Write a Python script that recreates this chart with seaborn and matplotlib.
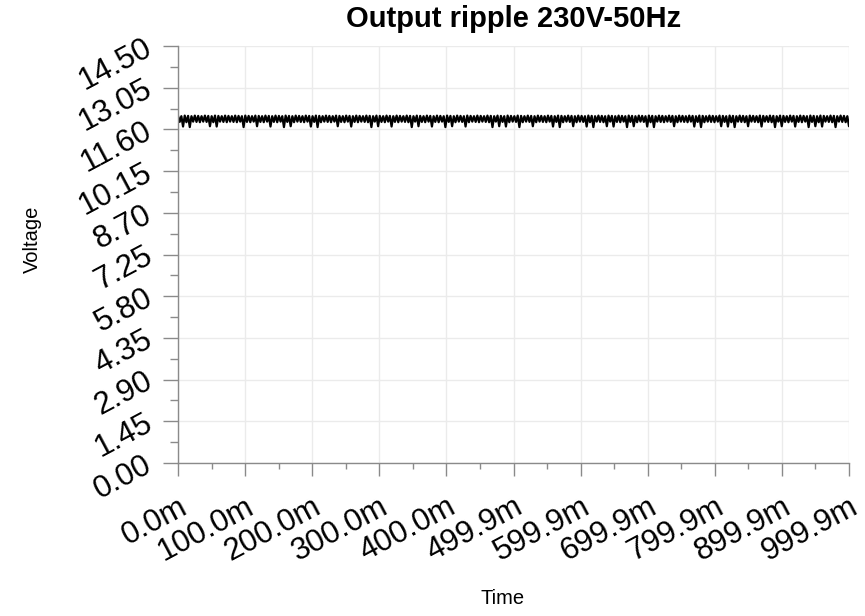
import seaborn as sns
import matplotlib.pyplot as plt
import matplotlib.transforms as mtransforms
import numpy as np
import pandas as pd
from matplotlib.ticker import AutoMinorLocator

# sampled output voltage (V), 400 samples over ~1 s
voltage = [
    12.07, 11.86, 12.06, 11.70, 12.08, 11.85, 12.07, 11.68, 12.06, 11.87, 12.08, 11.86, 12.07, 11.85, 12.06, 11.87, 12.08, 11.86, 12.07, 11.71,
    12.06, 11.85, 12.08, 11.70, 12.07, 11.87, 12.06, 11.86, 12.08, 11.85, 12.07, 11.87, 12.06, 11.86, 12.08, 11.85, 12.07, 11.87, 12.06, 11.68,
    12.08, 11.86, 12.07, 11.85, 12.06, 11.87, 12.08, 11.71, 12.07, 11.86, 12.06, 11.85, 12.08, 11.87, 12.07, 11.70, 12.06, 11.86, 12.08, 11.85,
    12.07, 11.87, 12.06, 11.68, 12.08, 11.86, 12.07, 11.71, 12.06, 11.85, 12.08, 11.87, 12.07, 11.86, 12.06, 11.85, 12.08, 11.87, 12.07, 11.70,
    12.06, 11.86, 12.08, 11.68, 12.07, 11.85, 12.06, 11.87, 12.08, 11.86, 12.07, 11.85, 12.06, 11.87, 12.08, 11.71, 12.07, 11.86, 12.06, 11.85,
    12.08, 11.87, 12.07, 11.70, 12.06, 11.86, 12.08, 11.85, 12.07, 11.87, 12.06, 11.86, 12.08, 11.85, 12.07, 11.68, 12.06, 11.87, 12.08, 11.71,
    12.07, 11.86, 12.06, 11.85, 12.08, 11.87, 12.07, 11.70, 12.06, 11.86, 12.08, 11.85, 12.07, 11.87, 12.06, 11.86, 12.08, 11.85, 12.07, 11.68,
    12.06, 11.87, 12.08, 11.71, 12.07, 11.86, 12.06, 11.85, 12.08, 11.87, 12.07, 11.70, 12.06, 11.86, 12.08, 11.85, 12.07, 11.87, 12.06, 11.68,
    12.08, 11.86, 12.07, 11.71, 12.06, 11.85, 12.08, 11.87, 12.07, 11.86, 12.06, 11.70, 12.08, 11.85, 12.07, 11.87, 12.06, 11.86, 12.08, 11.85,
    12.07, 11.87, 12.06, 11.86, 12.08, 11.85, 12.07, 11.68, 12.06, 11.87, 12.08, 11.71, 12.07, 11.86, 12.06, 11.70, 12.08, 11.85, 12.07, 11.87,
    12.06, 11.86, 12.08, 11.68, 12.07, 11.85, 12.06, 11.87, 12.08, 11.86, 12.07, 11.71, 12.06, 11.85, 12.08, 11.87, 12.07, 11.86, 12.06, 11.85,
    12.08, 11.87, 12.07, 11.70, 12.06, 11.86, 12.08, 11.68, 12.07, 11.85, 12.06, 11.87, 12.08, 11.86, 12.07, 11.71, 12.06, 11.85, 12.08, 11.87,
    12.07, 11.86, 12.06, 11.70, 12.08, 11.85, 12.07, 11.68, 12.06, 11.87, 12.08, 11.86, 12.07, 11.85, 12.06, 11.71, 12.08, 11.87, 12.07, 11.70,
    12.06, 11.86, 12.08, 11.85, 12.07, 11.87, 12.06, 11.68, 12.08, 11.86, 12.07, 11.71, 12.06, 11.85, 12.08, 11.87, 12.07, 11.86, 12.06, 11.70,
    12.08, 11.85, 12.07, 11.68, 12.06, 11.87, 12.08, 11.86, 12.07, 11.85, 12.06, 11.87, 12.08, 11.86, 12.07, 11.71, 12.06, 11.85, 12.08, 11.87,
    12.07, 11.86, 12.06, 11.85, 12.08, 11.87, 12.07, 11.70, 12.06, 11.86, 12.08, 11.68, 12.07, 11.85, 12.06, 11.87, 12.08, 11.86, 12.07, 11.85,
    12.06, 11.87, 12.08, 11.71, 12.07, 11.86, 12.06, 11.70, 12.08, 11.85, 12.07, 11.68, 12.06, 11.87, 12.08, 11.86, 12.07, 11.85, 12.06, 11.71,
    12.08, 11.87, 12.07, 11.86, 12.06, 11.85, 12.08, 11.70, 12.07, 11.87, 12.06, 11.86, 12.08, 11.85, 12.07, 11.68, 12.06, 11.87, 12.08, 11.71,
    12.07, 11.86, 12.06, 11.85, 12.08, 11.87, 12.07, 11.70, 12.06, 11.86, 12.08, 11.85, 12.07, 11.87, 12.06, 11.68, 12.08, 11.86, 12.07, 11.71,
    12.06, 11.85, 12.08, 11.70, 12.07, 11.87, 12.06, 11.86, 12.08, 11.85, 12.07, 11.68, 12.06, 11.87, 12.08, 11.86, 12.07, 11.85, 12.06, 11.71,
]
t_end = 999.9  # ms
x_ticklabels = ["0.0m", "100.0m", "200.0m", "300.0m", "400.0m", "499.9m",
                "599.9m", "699.9m", "799.9m", "899.9m", "999.9m"]
y_ticklabels = ["0.00", "1.45", "2.90", "4.35", "5.80", "7.25",
                "8.70", "10.15", "11.60", "13.05", "14.50"]
y_max = 14.5

time = np.linspace(0, t_end, len(voltage))
df = pd.DataFrame({"Time": time, "Voltage": voltage})

sns.set_theme(style="whitegrid")
plt.rcParams['font.family'] = ['Liberation Sans', 'DejaVu Sans']
plt.rcParams['text.color'] = 'black'
plt.rcParams['axes.labelcolor'] = 'black'

fig = plt.figure(figsize=(8.65, 6.16), dpi=100)
ax = fig.add_axes([178/865, 1 - 463/616, (849-178)/865, (463-46)/616])

sns.lineplot(data=df, x="Time", y="Voltage", color="black", lw=1.6, ax=ax)

ax.set_xlim(0, t_end)
ax.set_ylim(0, y_max)
ax.set_xticks(np.linspace(0, t_end, len(x_ticklabels)))
ax.set_xticklabels(x_ticklabels)
ax.set_yticks(np.linspace(0, y_max, len(y_ticklabels)))
ax.set_yticklabels(y_ticklabels)
ax.xaxis.set_minor_locator(AutoMinorLocator(2))
ax.yaxis.set_minor_locator(AutoMinorLocator(2))

gray = "#8a8a8a"
ax.tick_params(axis="x", which="major", length=9.5, width=1, color=gray,
               labelsize=22.5, pad=21, bottom=True, labelcolor="black")
ax.tick_params(axis="x", which="minor", length=4.5, width=1, color=gray, bottom=True)
ax.tick_params(axis="y", which="major", length=11, width=1, color=gray,
               labelsize=22.5, pad=9, left=True, labelcolor="black")
ax.tick_params(axis="y", which="minor", length=5.5, width=1, color=gray, left=True)
x_shift = mtransforms.ScaledTranslation(7/100, 0, fig.dpi_scale_trans)
for lab in ax.get_xticklabels():
    lab.set_rotation(28)
    lab.set_rotation_mode("anchor")
    lab.set_ha("right")
    lab.set_va("center")
    lab.set_transform(lab.get_transform() + x_shift)
for lab in ax.get_yticklabels():
    lab.set_rotation(28)
    lab.set_rotation_mode("anchor")
    lab.set_ha("right")
    lab.set_va("center")

ax.grid(True, which="major", color="#ebebeb", lw=1)
ax.grid(False, which="minor")
for side in ["top", "right"]:
    ax.spines[side].set_visible(False)
for side in ["left", "bottom"]:
    ax.spines[side].set_color(gray)
    ax.spines[side].set_linewidth(1)

ax.set_title("Output ripple 230V-50Hz", fontsize=21, fontweight="bold", pad=14)
ax.set_xlabel("Time", fontsize=14.5)
ax.set_ylabel("Voltage", fontsize=14.5)
ax.yaxis.set_label_coords(-0.203, 0.537)
ax.xaxis.set_label_coords(0.483, -0.302)

fig.savefig("out.png", dpi=100)
